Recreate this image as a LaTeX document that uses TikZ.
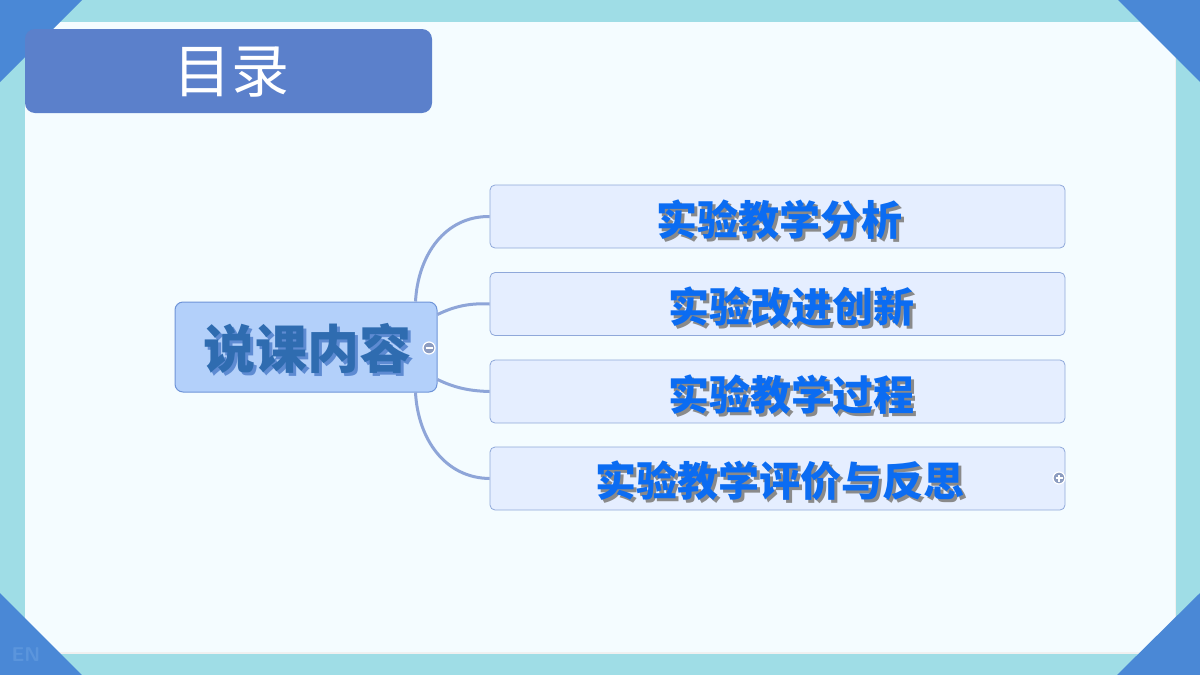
\documentclass[tikz,border=0pt]{standalone}
\usepackage{fontspec}
\newfontfamily\cjk{Noto Sans CJK SC}
\newfontfamily\cjkbold{Noto Sans CJK SC Black}
\definecolor{outerbg}{HTML}{9FDDE6}
\definecolor{panelbg}{HTML}{F4FCFF}
\definecolor{cornerblue}{HTML}{4A88D6}
\definecolor{titlebg}{HTML}{5B80CB}
\definecolor{rootfill}{HTML}{B3D0FA}
\definecolor{rootdraw}{HTML}{6E94D8}
\definecolor{roottext}{HTML}{2F6CB0}
\definecolor{rootshadow}{HTML}{5E8BD2}
\definecolor{childfill}{HTML}{E5EEFF}
\definecolor{childdraw}{HTML}{8FA8DA}
\definecolor{childtext}{HTML}{0B6CF2}
\definecolor{childshadow}{HTML}{8A8A8A}
\definecolor{linkcol}{HTML}{8EA5D8}
\definecolor{togglecol}{HTML}{8C9CC0}
\definecolor{entext}{HTML}{5B95DC}
\newcommand{\shadowed}[4]{\rlap{\hspace{#2}\raisebox{-#3}{\textcolor{#1}{#4}}}#4}
\tikzset{
  rootbox/.style={draw=rootdraw, line width=1pt, fill=rootfill, rounded corners=8pt, minimum width=262pt, minimum height=90pt, inner sep=0pt},
  childbox/.style={draw=childdraw, line width=0.8pt, fill=childfill, rounded corners=5pt, minimum width=575pt, minimum height=63pt, inner sep=0pt},
  childlabel/.style={font=\cjkbold\fontsize{41}{41}\selectfont, text=childtext, inner sep=0pt},
  link/.style={draw=linkcol, line width=3pt},
  toggle/.style={circle, draw=white, line width=1.2pt, fill=togglecol, minimum size=12pt, inner sep=0pt}
}
\begin{document}
\begin{tikzpicture}[x=1pt,y=-1pt]
\useasboundingbox (0,0) rectangle (1200,675);
% background
\fill[outerbg] (0,0) rectangle (1200,675);
\fill[black!6] (26,24) rectangle (1176,654);
\fill[panelbg] (25,22) rectangle (1175,652);
% corners
\fill[cornerblue] (0,0) -- (82,0) -- (0,82) -- cycle;
\fill[cornerblue] (1118,0) -- (1200,0) -- (1200,82) -- cycle;
\fill[cornerblue] (0,593) -- (82,675) -- (0,675) -- cycle;
\fill[cornerblue] (1117,675) -- (1200,593) -- (1200,675) -- cycle;
\node[text=entext, font=\sffamily\bfseries\fontsize{20}{20}\selectfont, inner sep=0pt] (en) at (26,655) {EN};
% title
\node[fill=titlebg, rounded corners=10pt, minimum width=407pt, minimum height=84pt, inner sep=0pt] (title) at (228.5,71) {};
\node[text=white, font=\cjk\fontsize{58}{58}\selectfont, inner sep=0pt] (titletext) at (231,72) {目录};
% root
\node[rootbox] (root) at (306,347) {};
\node[font=\cjkbold\fontsize{52}{52}\selectfont, text=roottext, inner sep=0pt] (roottext) at (307,350) {\shadowed{rootshadow}{3pt}{3pt}{说课内容}};
% children
\node[childbox] (c1) at (777.5,216.5) {};
\node[childbox] (c2) at (777.5,304) {};
\node[childbox] (c3) at (777.5,391.5) {};
\node[childbox] (c4) at (777.5,478.5) {};
\node[childlabel] (t1) at (779,221) {\shadowed{childshadow}{3pt}{3pt}{实验教学分析}};
\node[childlabel] (t2) at (791,308) {\shadowed{childshadow}{3pt}{3pt}{实验改进创新}};
\node[childlabel] (t3) at (791,396) {\shadowed{childshadow}{3pt}{3pt}{实验教学过程}};
\node[childlabel] (t4) at (780,482) {\shadowed{childshadow}{3pt}{3pt}{实验教学评价与反思}};
% connectors
\coordinate (r1) at ([xshift=-22pt]root.north east);
\coordinate (r4) at ([xshift=-22pt]root.south east);
\coordinate (r2) at ([yshift=-13pt]root.north east);
\coordinate (r3) at ([yshift=13pt]root.south east);
\draw[link] (r1) .. controls (418,255) and (445,216) .. (c1.west);
\draw[link] (r2) .. controls (455,306) and (470,303) .. (c2.west);
\draw[link] (r3) .. controls (455,388) and (470,391) .. (c3.west);
\draw[link] (r4) .. controls (418,439) and (445,478) .. (c4.west);
% toggles
\node[toggle] (minus) at (429,348) {};
\draw[white, line width=1.5pt] ([xshift=-3.5pt]minus.center) -- ([xshift=3.5pt]minus.center);
\node[toggle] (plus) at (1059,478) {};
\draw[white, line width=1.4pt] ([xshift=-3.5pt]plus.center) -- ([xshift=3.5pt]plus.center);
\draw[white, line width=1.4pt] ([yshift=-3.5pt]plus.center) -- ([yshift=3.5pt]plus.center);
\end{tikzpicture}
\end{document}
